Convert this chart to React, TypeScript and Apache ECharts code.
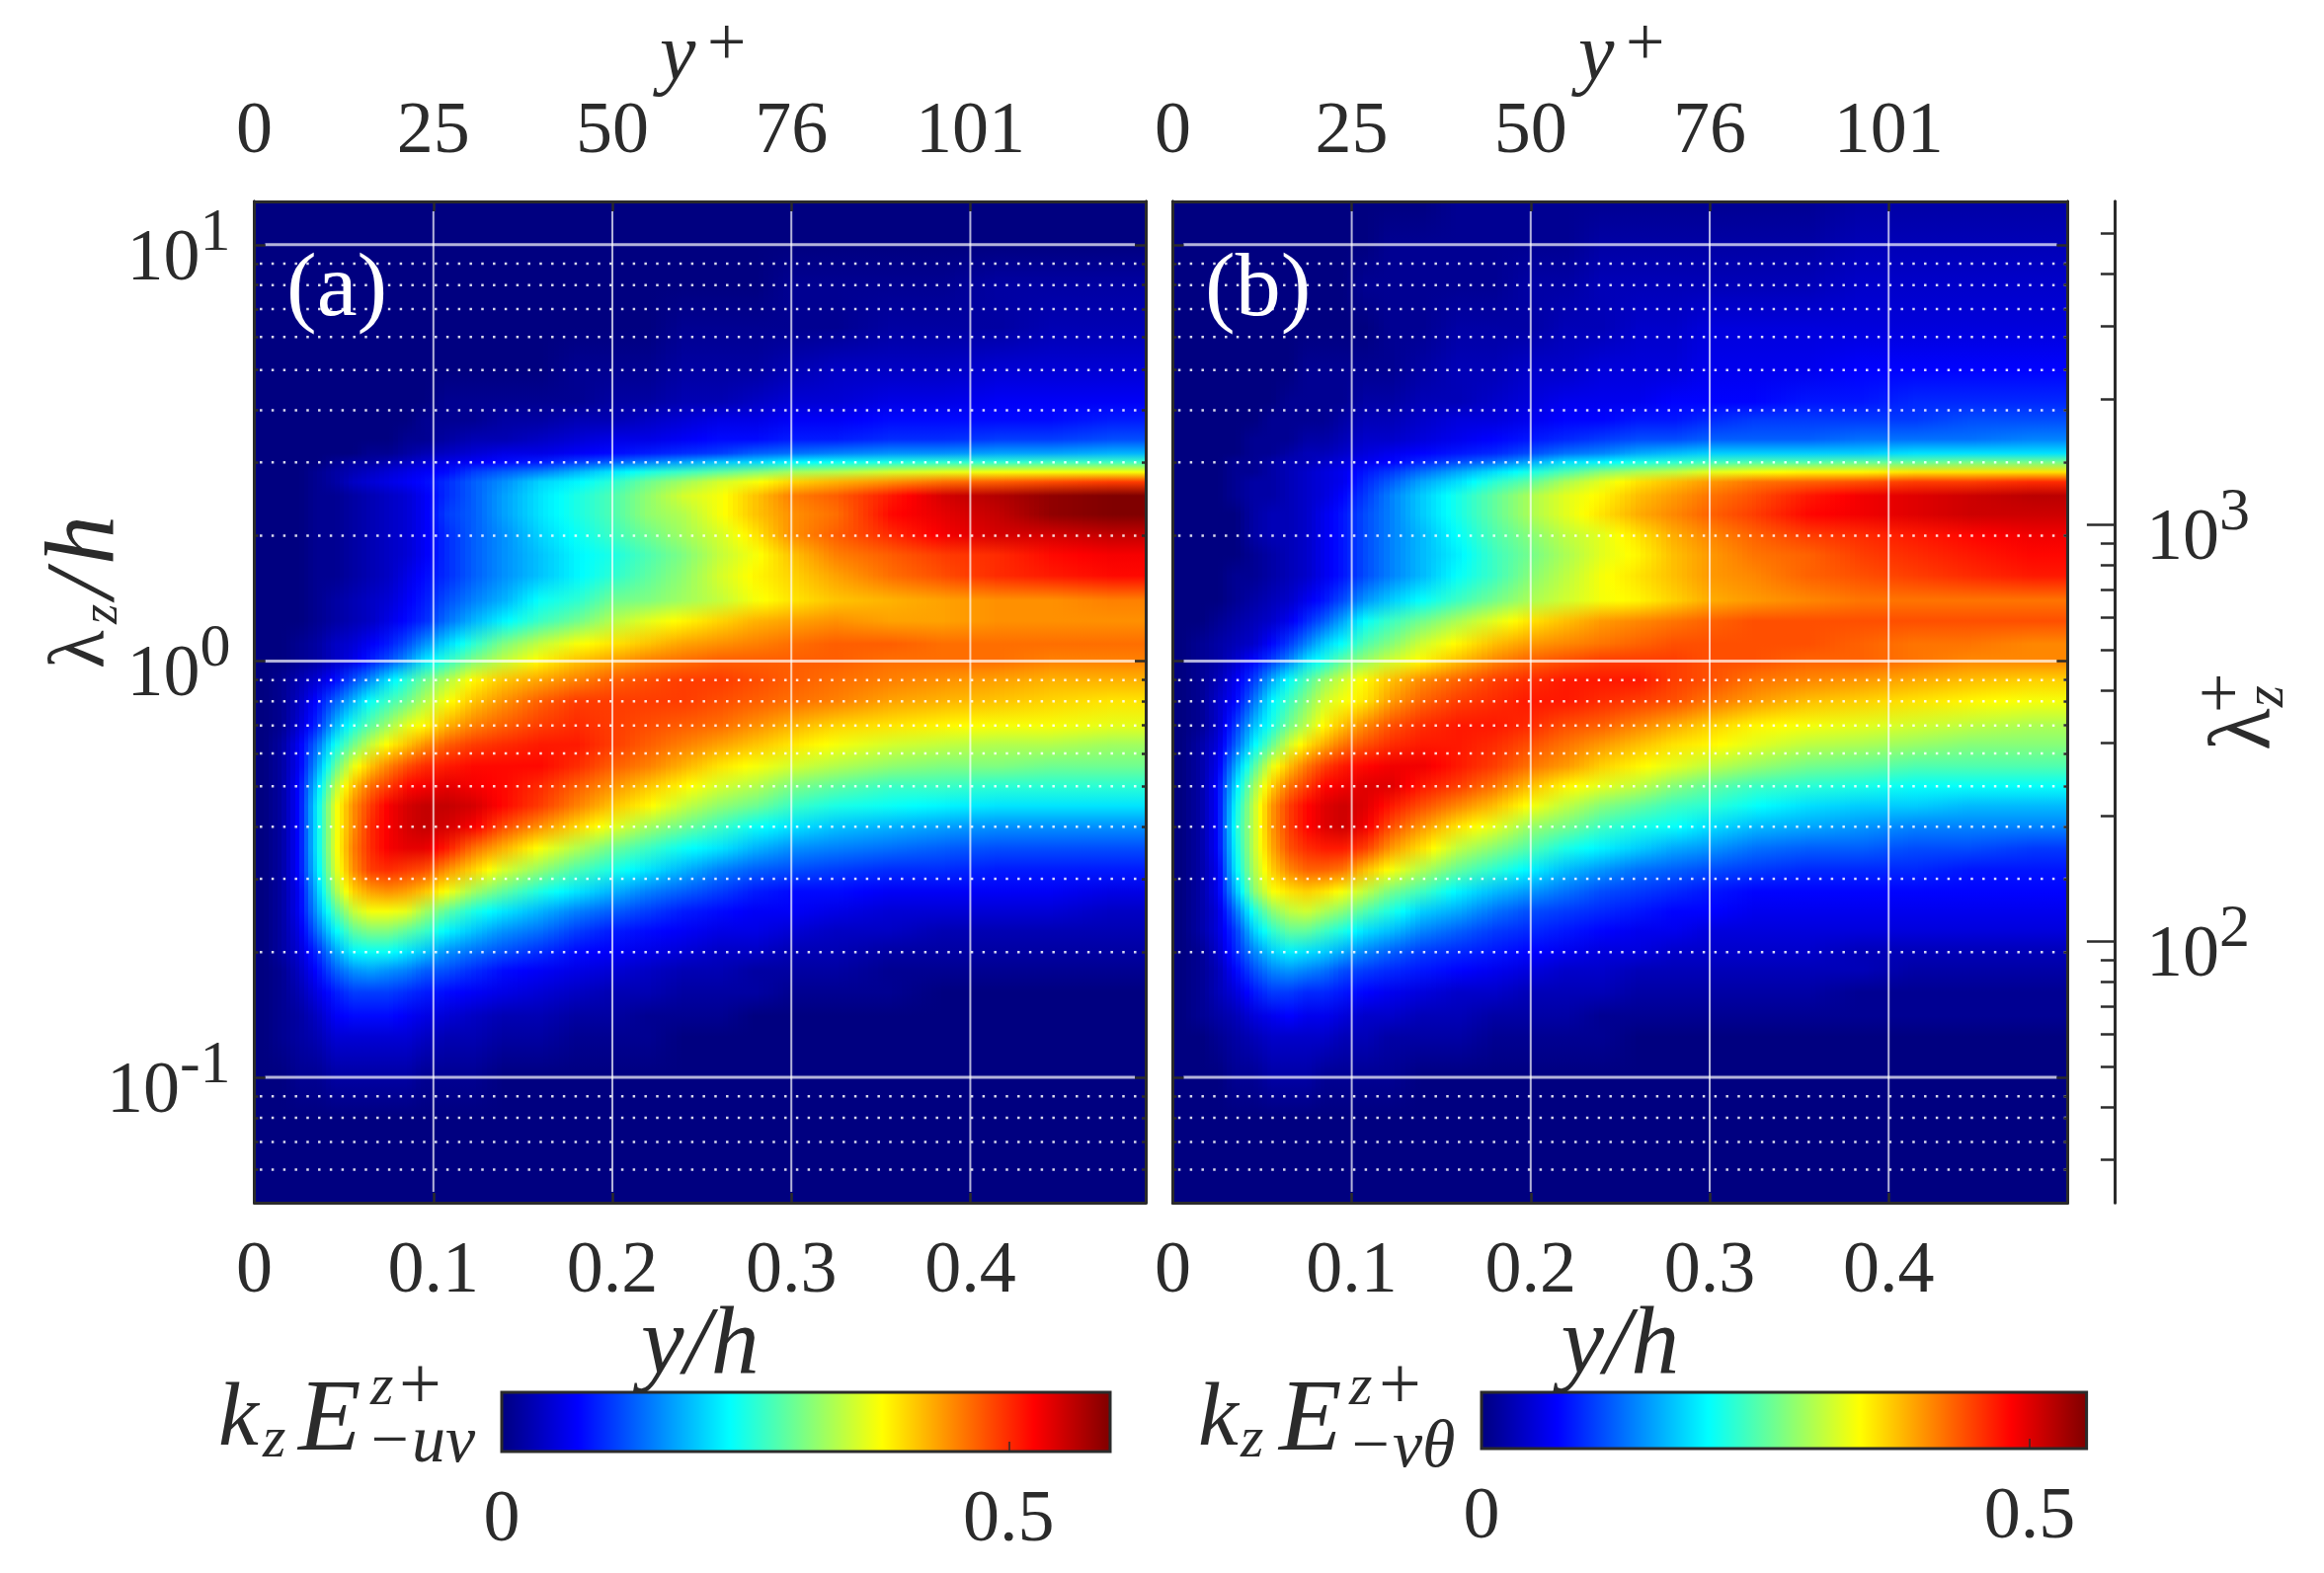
import React, { useEffect, useRef } from "react";
import * as echarts from "echarts";

// Column edges (y/h) of the spectrum cells
const xEdges = [0, .01, .02, .03, .04, .05, .06, .07, .08, .09, .1, .115, .13, .15, .17, .19, .21, .23, .25, .27, .29, .31, .34, .37, .4, .43, .46, .5];
// Row nodes (lambda_z/h), top to bottom
const lambdaNodes = [12.7, 10, 8, 6.3, 5, 4.2, 3.8, 3.4, 3.15, 3, 2.85, 2.7, 2.5, 2.25, 2, 1.8, 1.6, 1.4, 1.25, 1.1, 1, .9, .8, .7, .63, .56, .5, .45, .4, .355, .315, .28, .25, .225, .2, .18, .16, .14, .125, .1, .08, .063, .05];

// Spectrum values, in units of 0.01. One row per lambda node, one column per x cell.
const spectrumA = [
[0,0,0,0,0,0,0,0,0,0,0,0,0,0,0,0,0,0,0,0,0,0,0,0,0,0,0],
[0,0,0,0,0,0,0,0,0,0,0,0,0,0,0,0,0,0,0,0,0,0,0,0,0,0,0],
[0,0,0,0,0,0,0,0,0,0,0,0,0,0,0,0,0,0,0,0,1,1,1,1,2,2,2],
[0,0,0,0,0,0,0,0,0,0,0,0,0,0,0,0,0,1,1,1,1,1,2,2,2,3,3],
[0,0,0,0,0,0,0,0,0,0,0,0,0,0,1,1,1,2,2,2,3,4,4,4,5,5,5],
[0,0,0,0,0,0,0,0,0,0,1,1,1,1,1,2,2,3,3,4,5,5,6,6,7,7,7],
[0,0,0,0,0,0,0,0,0,1,1,1,2,2,3,3,4,5,6,6,7,7,8,8,8,8,9],
[0,0,0,0,0,0,0,0,1,1,2,3,3,4,5,6,6,7,8,8,9,9,10,10,11,11,12],
[0,0,0,0,0,0,1,1,2,3,4,5,6,6,7,8,9,10,11,13,14,15,16,16,17,17,18],
[0,0,0,0,1,2,2,3,4,5,6,7,8,9,11,13,15,17,19,20,22,23,24,25,25,26,26],
[0,0,0,1,2,3,4,5,6,7,8,11,13,15,18,21,24,26,28,30,32,33,35,36,37,37,37],
[0,0,0,1,2,4,5,6,7,8,10,13,16,20,22,25,29,32,35,37,40,42,44,46,47,48,49],
[0,0,0,1,1,2,3,4,5,7,10,13,17,21,24,27,31,35,37,41,45,47,51,55,57,59,60],
[0,0,0,1,1,2,3,4,5,7,11,13,17,21,24,27,31,33,37,41,44,46,52,54,56,59,60],
[0,0,0,1,1,2,3,4,5,7,10,13,16,20,23,26,29,32,35,39,44,47,50,53,55,55,56],
[0,0,0,1,1,2,3,4,5,7,10,13,16,19,22,24,27,30,34,37,41,45,47,49,50,52,53],
[0,0,0,1,1,2,3,4,6,8,10,13,16,19,22,25,28,31,35,38,40,43,46,48,50,51,52],
[0,0,0,1,2,3,4,5,7,9,12,15,18,23,25,29,30,32,34,37,39,41,42,43,44,44,45],
[0,0,0,1,2,3,4,6,8,10,14,18,22,26,29,33,36,38,40,42,43,44,43,43,44,44,44],
[0,0,1,2,4,5,7,9,12,16,20,25,30,34,37,39,41,43,44,45,46,47,47,46,46,46,46],
[0,0,1,2,4,6,9,12,16,21,25,30,34,38,41,43,45,46,47,47,47,47,46,46,46,45,45],
[0,1,3,5,8,12,16,21,25,29,33,38,41,43,45,47,48,49,49,48,47,46,45,44,43,42,42],
[0,1,4,8,13,18,23,26,29,33,37,41,44,47,49,49,49,49,48,47,46,45,43,42,41,40,39],
[0,1,5,10,18,24,28,32,36,38,42,45,47,49,50,49,48,47,46,44,42,40,39,38,37,37,36],
[0,2,7,14,23,29,34,38,41,44,47,49,50,51,51,49,47,45,43,41,39,37,35,34,33,33,32],
[0,2,7,17,28,36,41,45,48,50,51,52,52,52,50,47,45,42,39,37,35,33,31,30,30,29,29],
[0,2,8,20,33,41,46,49,52,53,54,53,52,50,47,44,41,38,35,33,30,28,26,26,25,25,25],
[0,2,8,22,36,44,49,53,55,56,56,55,52,49,45,41,38,34,31,29,26,24,23,22,21,21,21],
[0,2,8,22,36,44,50,53,55,56,55,53,48,44,40,36,32,29,26,23,21,19,18,17,16,16,16],
[0,2,8,22,36,45,50,53,54,54,51,46,42,37,33,29,26,23,21,18,16,15,14,13,12,12,12],
[0,2,8,21,35,44,49,50,49,48,44,40,35,31,27,24,21,18,15,13,12,11,10,10,9,9,9],
[0,2,7,19,32,40,43,44,43,41,37,32,28,24,21,18,15,13,11,9,8,8,7,7,7,7,6],
[0,2,7,17,27,34,37,37,36,32,28,24,21,18,15,13,11,9,8,7,7,6,5,5,5,5,4],
[0,2,6,14,22,28,30,30,28,26,22,19,16,14,11,9,8,7,6,6,5,4,4,3,3,3,3],
[0,2,5,10,17,22,23,23,21,19,16,14,12,10,8,7,6,5,4,4,3,3,2,2,2,2,2],
[0,1,4,8,13,16,17,16,15,13,12,10,8,7,6,5,4,3,3,2,2,2,1,1,1,1,1],
[0,1,3,6,9,11,11,11,10,9,8,7,6,5,4,3,3,2,2,2,1,1,1,0,0,0,0],
[0,1,2,4,7,8,8,8,7,6,5,4,3,3,2,2,1,1,1,0,0,0,0,0,0,0,0],
[0,1,2,3,5,5,5,5,5,4,3,3,2,2,1,1,1,0,0,0,0,0,0,0,0,0,0],
[0,0,1,1,2,2,2,2,2,1,1,1,0,0,0,0,0,0,0,0,0,0,0,0,0,0,0],
[0,0,0,0,0,0,0,0,0,0,0,0,0,0,0,0,0,0,0,0,0,0,0,0,0,0,0],
[0,0,0,0,0,0,0,0,0,0,0,0,0,0,0,0,0,0,0,0,0,0,0,0,0,0,0],
[0,0,0,0,0,0,0,0,0,0,0,0,0,0,0,0,0,0,0,0,0,0,0,0,0,0,0],
];
const spectrumB = [
[0,0,0,0,0,0,0,0,0,0,0,0,0,1,1,1,1,1,1,1,1,1,1,2,2,2,2],
[0,0,0,0,0,0,0,0,0,0,0,1,1,1,1,1,1,2,2,2,2,2,2,3,3,3,3],
[0,0,0,0,0,0,0,0,0,0,1,1,1,1,1,2,2,3,3,3,3,3,3,4,4,4,4],
[0,0,0,0,0,0,0,0,0,0,0,1,1,2,2,2,3,3,4,4,5,5,5,5,5,5,5],
[0,0,0,0,0,0,0,1,1,1,1,1,2,3,3,4,4,5,5,5,6,6,6,7,7,7,7],
[0,0,0,0,0,0,1,1,1,1,2,2,3,3,4,5,6,6,6,7,7,7,8,8,9,9,9],
[0,0,0,0,0,1,1,1,1,2,3,3,4,5,5,6,7,7,8,8,9,10,10,10,10,11,11],
[0,0,0,0,1,1,1,2,2,3,4,4,5,6,7,8,9,10,11,11,12,12,12,13,13,13,14],
[0,0,0,0,1,1,2,3,3,4,5,6,7,8,9,11,13,14,16,17,18,18,18,18,19,19,19],
[0,0,0,1,1,2,3,3,4,5,6,7,9,11,13,16,19,20,22,23,24,25,25,26,26,27,27],
[0,0,0,1,1,2,3,4,5,6,8,10,13,16,19,22,25,28,30,31,33,34,35,35,36,36,36],
[0,0,0,1,2,2,3,4,5,6,9,12,16,19,23,26,30,33,36,38,40,42,43,44,45,45,46],
[0,0,0,1,2,2,3,4,5,7,10,14,18,22,26,30,33,35,38,40,42,44,47,49,50,51,52],
[0,0,0,0,2,3,3,4,6,8,11,14,18,22,26,30,33,36,39,41,43,45,48,49,50,51,51],
[0,0,0,0,2,3,3,4,6,8,11,14,17,21,25,28,31,33,36,39,41,43,45,46,47,48,49],
[0,0,0,0,1,2,3,4,6,8,11,14,17,20,24,27,30,33,35,38,40,42,43,45,46,47,48],
[0,0,0,1,1,2,3,4,6,8,11,14,17,21,24,28,31,34,36,38,40,41,43,44,45,46,47],
[0,0,0,1,2,3,4,6,8,11,15,18,21,24,27,30,32,34,35,37,39,40,41,42,42,42,42],
[0,0,1,2,3,4,6,9,12,16,21,24,27,30,33,36,38,40,41,42,43,44,44,44,44,44,44],
[0,1,2,3,4,7,10,14,18,21,25,28,32,35,38,40,41,42,43,44,44,44,44,43,42,42,41],
[0,1,2,4,7,10,14,19,22,26,29,32,35,38,41,43,44,45,45,45,44,44,43,43,42,41,41],
[0,1,3,6,10,16,21,25,29,32,35,38,41,43,45,46,47,47,47,45,44,42,41,40,39,38,37],
[0,1,4,7,13,20,24,28,32,34,36,40,43,45,46,47,47,46,45,44,42,40,38,37,36,35,34],
[0,1,4,10,17,22,27,31,35,38,41,44,46,47,47,46,44,43,41,39,37,35,34,33,32,31,30],
[0,2,5,12,20,26,32,36,39,42,44,46,47,47,46,44,42,40,38,36,35,33,31,30,29,28,28],
[0,2,6,16,25,33,38,42,45,47,48,49,49,47,45,42,40,37,35,33,31,29,27,26,25,25,25],
[0,2,7,19,29,37,42,45,48,49,50,50,47,45,42,38,35,33,31,28,26,24,23,22,21,21,21],
[0,2,7,21,31,40,45,48,50,51,50,47,44,41,38,34,31,28,26,24,23,21,19,18,18,17,17],
[0,2,7,22,31,40,45,48,50,51,49,44,40,36,33,29,27,24,22,21,19,17,16,15,14,14,14],
[0,2,7,21,31,39,44,46,47,47,45,40,36,31,28,25,22,20,18,16,15,13,12,12,11,11,10],
[0,2,6,20,30,37,41,43,43,42,38,34,30,26,23,20,17,15,13,12,11,10,9,9,9,8,8],
[0,2,6,17,28,34,36,37,36,34,31,27,24,20,17,15,13,11,10,9,8,7,7,7,7,7,7],
[0,2,5,13,22,28,31,32,30,28,25,22,18,16,13,11,10,9,8,7,7,6,6,6,6,6,6],
[0,2,5,10,18,23,26,26,24,22,19,17,14,12,10,9,8,7,6,6,5,5,5,5,5,5,5],
[0,1,4,9,14,18,20,19,18,16,14,12,10,9,8,7,6,5,5,4,4,4,4,3,3,3,3],
[0,1,3,7,11,14,15,14,13,11,10,9,8,7,6,5,4,4,3,3,3,3,3,3,2,2,2],
[0,1,3,5,8,10,10,9,9,8,7,6,5,4,4,3,3,3,2,2,2,2,2,1,1,1,1],
[0,1,2,3,5,6,7,6,6,5,4,4,3,3,2,2,2,1,1,1,1,1,1,1,1,1,1],
[0,0,1,2,3,4,4,4,4,3,3,2,2,2,1,1,1,1,0,0,0,0,0,0,0,0,0],
[0,0,0,1,1,2,2,2,1,1,1,1,0,0,0,0,0,0,0,0,0,0,0,0,0,0,0],
[0,0,0,0,0,0,0,0,0,0,0,0,0,0,0,0,0,0,0,0,0,0,0,0,0,0,0],
[0,0,0,0,0,0,0,0,0,0,0,0,0,0,0,0,0,0,0,0,0,0,0,0,0,0,0],
[0,0,0,0,0,0,0,0,0,0,0,0,0,0,0,0,0,0,0,0,0,0,0,0,0,0,0],
];

const xTicks = [0, .1, .2, .3, .4];
const yPlusLabels = ["0", "25", "50", "76", "101"];
const lambdaDecades = [.1, 1, 10];
const lambdaMinor = [.06, .07, .08, .09, .2, .3, .4, .5, .6, .7, .8, .9, 2, 3, 4, 5, 6, 7, 8, 9];
const lambdaPlusDecades = [100, 1000];
const lambdaPlusMinor = [30, 40, 50, 60, 70, 80, 90, 200, 300, 400, 500, 600, 700, 800, 900, 2000, 3000, 4000, 5000];
const colorbarTicks = [.5];
const colorbarLabels = [0, .5];
const climA = .6;
const climB = .552;

const FONT = '"Liberation Serif", "Times New Roman", serif';
const INK = "#2b2b2b";
const L = Math.log10;
const Y_MIN = L(.05), Y_MAX = L(12.7);
const YP_MIN = L(23.6), YP_MAX = L(5970);
const XMAX_A = .498, XMAX_B = .5;

const jetStops: [number, number[]][] = [[0, [0, 0, 128]], [.125, [0, 0, 255]], [.375, [0, 255, 255]], [.625, [255, 255, 0]], [.875, [255, 0, 0]], [1, [128, 0, 0]]];
function jet(f: number) {
  const t = Math.max(0, Math.min(1, f));
  for (let i = 1; i < jetStops.length; i++) {
    if (t <= jetStops[i][0]) {
      const [a, ca] = jetStops[i - 1], [b, cb] = jetStops[i];
      const k = (t - a) / (b - a);
      return `rgb(${ca.map((c, j) => Math.round(c + (cb[j] - c) * k)).join(",")})`;
    }
  }
  return "rgb(128,0,0)";
}

// one datum per cell: [x0, x1, yTop, yBottom, valueTop, valueBottom]
function cells(m: number[][], xmax: number) {
  const out: number[][] = [];
  for (let r = 0; r + 1 < m.length; r++) {
    for (let c = 0; c < m[r].length; c++) {
      out.push([xEdges[c], Math.min(xEdges[c + 1], xmax), L(lambdaNodes[r]), L(lambdaNodes[r + 1]), m[r][c] / 100, m[r + 1][c] / 100]);
    }
  }
  return out;
}

function heatSeries(m: number[][], xmax: number, xAxisIndex: number, yAxisIndex: number, clim: number) {
  const data = cells(m, xmax);
  const nc = m[0].length;
  return {
    type: "custom", coordinateSystem: "cartesian2d", xAxisIndex, yAxisIndex, z: 1, silent: true, clip: true,
    encode: { x: [0, 1], y: [2, 3] }, data,
    renderItem: (params: any, api: any) => {
      const i = params.dataIndex, d = data[i], c = i % nc;
      const a = api.coord([d[0], d[2]]), b = api.coord([d[1], d[3]]);
      const x0 = Math.round(a[0]), x1 = Math.round(b[0]), y = Math.round(a[1]), h = Math.round(b[1]) - y;
      const left = c > 0 ? data[i - 1] : d, right = c < nc - 1 ? data[i + 1] : d;
      // contour-style shading across the cell, between the centres of the neighbouring read values
      const spread = Math.abs(left[4] - d[4]) + Math.abs(right[4] - d[4]) + Math.abs(left[5] - d[5]) + Math.abs(right[5] - d[5]);
      const n = spread < .001 ? 1 : Math.max(1, Math.round((x1 - x0) / 5));
      const xc = (d[0] + d[1]) / 2, lc = (left[0] + left[1]) / 2, rc = (right[0] + right[1]) / 2;
      const shade = (s: number, k: number) => {
        const xs = d[0] + (d[1] - d[0]) * s;
        if (xs < xc && lc < xc) return d[k] + (left[k] - d[k]) * (xc - xs) / (xc - lc);
        if (xs > xc && rc > xc) return d[k] + (right[k] - d[k]) * (xs - xc) / (rc - xc);
        return d[k];
      };
      const children: any[] = [];
      for (let j = 0; j < n; j++) {
        const sx0 = x0 + Math.round((x1 - x0) * j / n), sx1 = x0 + Math.round((x1 - x0) * (j + 1) / n);
        const s = (j + .5) / n;
        const top = jet((n === 1 ? d[4] : shade(s, 4)) / clim), bottom = jet((n === 1 ? d[5] : shade(s, 5)) / clim);
        children.push({
          type: "rect", shape: { x: sx0, y, width: sx1 - sx0, height: h },
          style: { fill: top === bottom ? top : new echarts.graphic.LinearGradient(0, 0, 0, 1, [{ offset: 0, color: top }, { offset: 1, color: bottom }]) },
        });
      }
      return { type: "group", children };
    },
  };
}

function lineSeries(points: number[][], xAxisIndex: number, yAxisIndex: number, width: number, color: string, type: any) {
  return { type: "line", xAxisIndex, yAxisIndex, z: 5, silent: true, symbol: "none", data: points, lineStyle: { width, color, type, cap: "butt" } };
}

function gridLines(xAxisIndex: number, yAxisIndex: number, xmax: number) {
  const out: any[] = [];
  lambdaDecades.forEach((v) => out.push(lineSeries([[.006, L(v)], [xmax - .006, L(v)]], xAxisIndex, yAxisIndex, 3, "rgba(255,255,255,.7)", "solid")));
  lambdaMinor.forEach((v) => out.push(lineSeries([[.003, L(v)], [xmax, L(v)]], xAxisIndex, yAxisIndex, 2.5, "rgba(255,255,255,.85)", [2.5, 9.3])));
  xTicks.slice(1).forEach((v) => out.push(lineSeries([[v, Y_MIN + .026], [v, Y_MAX - .024]], xAxisIndex, yAxisIndex, 2, "rgba(255,255,255,.7)", "solid")));
  return out;
}

const axisLine = { show: true, onZero: false, lineStyle: { color: INK, width: 3 } };
const tick = (values: number[], length: number, width = 2.5) => ({ show: true, inside: true, length, customValues: values, lineStyle: { color: INK, width } });
const labelBase = { color: INK, fontFamily: FONT, fontSize: 74 };
const rich = {
  b: { fontFamily: FONT, fontSize: 74, color: INK, lineHeight: 94, verticalAlign: "bottom" },
  s: { fontFamily: FONT, fontSize: 62, color: INK, lineHeight: 94, verticalAlign: "top" },
};
const exponentLabel = (v: number) => `{b|10}{s|${Math.round(v) < 0 ? "-" : ""}${Math.abs(Math.round(v))}}`;

function xAxes(gridIndex: number, max: number) {
  return [
    {
      type: "value", gridIndex, min: 0, max, position: "bottom", z: 10, axisLine, splitLine: { show: false }, axisTick: tick(xTicks.slice(1), 10),
      axisLabel: { ...labelBase, margin: 28, customValues: xTicks, formatter: (v: number) => String(Math.round(v * 10) / 10) },
      name: "y/h", nameLocation: "middle", nameGap: 90, nameMoveOverlap: false,
      nameTextStyle: { fontFamily: FONT, fontStyle: "italic", fontSize: 98, color: INK },
    },
    {
      type: "value", gridIndex, min: 0, max, position: "top", z: 10, axisLine, splitLine: { show: false }, axisTick: tick(xTicks.slice(1), 10),
      axisLabel: { ...labelBase, margin: 38, customValues: xTicks, formatter: (v: number) => yPlusLabels[Math.round(v * 10)] },
    },
  ];
}

function yAxis(gridIndex: number, position: string, min: number, max: number, t: any, label: any = { show: false }, offset = 0) {
  return { type: "value", gridIndex, min, max, position, offset, z: 10, axisLine, splitLine: { show: false }, axisTick: t, axisLabel: label };
}

function colorbarAxes(gridIndex: number, clim: number) {
  return {
    x: {
      type: "value", gridIndex, min: 0, max: clim, position: "bottom", z: 10,
      axisLine: { show: false }, splitLine: { show: false }, axisTick: tick(colorbarTicks, 10, 1.5),
      axisLabel: { ...labelBase, margin: 28, customValues: colorbarLabels, formatter: (v: number) => String(v) },
    },
    y: { type: "value", gridIndex, min: 0, max: 1, show: false },
  };
}

function colorbarSeries(xAxisIndex: number, yAxisIndex: number, clim: number) {
  return {
    type: "custom", coordinateSystem: "cartesian2d", xAxisIndex, yAxisIndex, z: 1, silent: true, clip: false,
    encode: { x: [0, 1], y: [2, 3] }, data: [[0, clim, 1, 0]],
    renderItem: (_: any, api: any) => {
      const a = api.coord([api.value(0), api.value(2)]);
      const b = api.coord([api.value(1), api.value(3)]);
      return {
        type: "rect", shape: { x: a[0], y: a[1], width: b[0] - a[0], height: b[1] - a[1] },
        style: {
          stroke: INK, lineWidth: 3,
          fill: new echarts.graphic.LinearGradient(0, 0, 1, 0, jetStops.map(([offset, c]) => ({ offset, color: `rgb(${c.join(",")})` }))),
        },
      };
    },
  };
}

// text helper: x,y = left/centre anchor of the glyph line
function t(text: string, x: number, y: number, fontSize: number, italic = true, rotation = 0, fill = INK, align = "left") {
  return {
    type: "text", x, y, rotation, z: 60, silent: true,
    style: { text, x: 0, y: 0, fontFamily: FONT, fontSize, fontStyle: italic ? "italic" : "normal", fill, align, verticalAlign: "middle" },
  };
}

const R90 = Math.PI / 2;
const annotations = [
  t("(a)", 290, 288, 92, false, 0, "#fff"),
  t("(b)", 1220, 288, 92, false, 0, "#fff"),
  // y+ on top of both panels
  t("y", 668, 52, 82), t("+", 716, 42, 70, false),
  t("y", 1598, 52, 82), t("+", 1646, 42, 70, false),
  // lambda_z / h (left, rotated)
  t("λ", 78, 677, 80, false, R90), t("z", 100, 632, 52, true, R90), t("/", 80, 606, 100, true, R90), t("h", 80, 572, 100, true, R90),
  // lambda_z^+ (right, rotated)
  t("λ", 2268, 760, 88, false, R90), t("z", 2292, 716, 56, true, R90), t("+", 2246, 722, 72, false, R90),
  // colourbar titles
  t("k", 221, 1432, 92), t("z", 266, 1455, 60), t("E", 302, 1432, 104), t("z", 375, 1402, 60), t("+", 404, 1400, 76, false), t("−uv", 371, 1457, 68),
  t("k", 1213, 1432, 92), t("z", 1256, 1455, 60), t("E", 1295, 1432, 104), t("z", 1366, 1402, 60), t("+", 1396, 1400, 76, false), t("−vθ", 1364, 1462, 68),
];

function buildOption() {
  const a = xAxes(0, XMAX_A), b = xAxes(1, XMAX_B);
  const ca = colorbarAxes(2, climA), cb = colorbarAxes(3, climB);
  const yLeftMain = { ...yAxis(0, "left", Y_MIN, Y_MAX, tick(lambdaDecades.map(L), 11), { ...labelBase, margin: 24, customValues: lambdaDecades.map(L), formatter: exponentLabel, rich }) };
  return {
    animation: false,
    backgroundColor: "#fff",
    grid: [
      { left: 257.6, top: 204, width: 902.4, height: 1014 },
      { left: 1187.4, top: 204, width: 906, height: 1014 },
      { left: 508, top: 1410, width: 616, height: 60 },
      { left: 1500, top: 1410, width: 612.6, height: 57 },
    ],
    xAxis: [...a, ...b, ca.x, cb.x],
    yAxis: [
      yLeftMain,                                                        // 0
      yAxis(0, "left", Y_MIN, Y_MAX, tick(lambdaMinor.map(L), 4)),      // 1
      yAxis(0, "right", Y_MIN, Y_MAX, tick(lambdaDecades.map(L), 11)),  // 2
      yAxis(0, "right", Y_MIN, Y_MAX, tick(lambdaMinor.map(L), 4)),     // 3
      yAxis(1, "left", Y_MIN, Y_MAX, tick(lambdaDecades.map(L), 11)),   // 4
      yAxis(1, "left", Y_MIN, Y_MAX, tick(lambdaMinor.map(L), 4)),      // 5
      yAxis(1, "right", Y_MIN, Y_MAX, tick(lambdaDecades.map(L), 11)),  // 6
      yAxis(1, "right", Y_MIN, Y_MAX, tick(lambdaMinor.map(L), 4)),     // 7
      yAxis(1, "right", YP_MIN, YP_MAX, tick(lambdaPlusDecades.map(L), 28),
        { ...labelBase, margin: 32, customValues: lambdaPlusDecades.map(L), formatter: exponentLabel, rich }, 47.5), // 8
      yAxis(1, "right", YP_MIN, YP_MAX, tick(lambdaPlusMinor.map(L), 14), { show: false }, 47.5),                    // 9
      ca.y, cb.y,
    ],
    series: [
      heatSeries(spectrumA, XMAX_A, 0, 0, climA),
      heatSeries(spectrumB, XMAX_B, 2, 4, climB),
      ...gridLines(0, 0, XMAX_A),
      ...gridLines(2, 4, XMAX_B),
      colorbarSeries(4, 10, climA),
      colorbarSeries(5, 11, climB),
    ],
    graphic: annotations,
  };
}

export default function App() {
  const ref = useRef<HTMLDivElement>(null);
  useEffect(() => {
    const chart = echarts.init(ref.current!, undefined, { renderer: "svg" });
    chart.setOption(buildOption() as any);
    return () => chart.dispose();
  }, []);
  return <div ref={ref} style={{ position: "fixed", left: 0, top: 0, width: 2353, height: 1593 }} />;
}
